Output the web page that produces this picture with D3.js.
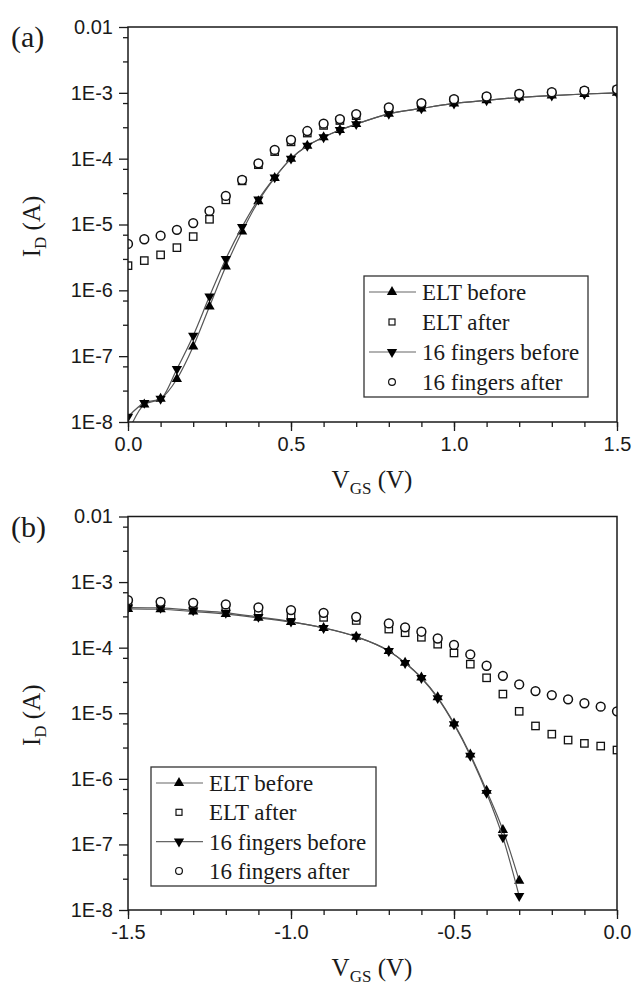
<!DOCTYPE html>
<html>
<head>
<meta charset="utf-8">
<script src="https://cdn.jsdelivr.net/npm/d3@7"></script>
<style>
  body { margin: 0; background: #fff; }
  svg { display: block; }
</style>
</head>
<body>
<svg width="634" height="988"></svg>
<script>
// (a) transfer curves, positive gate bias
var vTop = [0, 0.05, 0.1, 0.15, 0.2, 0.25, 0.3, 0.35, 0.4, 0.45, 0.5, 0.55, 0.6, 0.65, 0.7,
  0.8, 0.9, 1.0, 1.1, 1.2, 1.3, 1.4, 1.5];
var topEltBefore = [7e-9, 1.85e-8, 2.25e-8, 4.5e-8, 1.4e-7, 5.7e-7, 2.3e-6, 7.8e-6, 2.25e-5, 5.1e-5,
  1.0e-4, 1.57e-4, 2.12e-4, 2.72e-4, 3.35e-4, 4.8e-4, 5.8e-4, 6.9e-4, 7.7e-4, 8.5e-4, 9.1e-4, 9.6e-4, 1.0e-3];
var topFingBefore = [1.2e-8, 1.95e-8, 2.25e-8, 6.4e-8, 2.05e-7, 8.1e-7, 3.0e-6, 9.2e-6, 2.4e-5, 5.2e-5,
  1.0e-4, 1.57e-4, 2.12e-4, 2.72e-4, 3.35e-4, 4.8e-4, 5.8e-4, 6.9e-4, 7.7e-4, 8.5e-4, 9.1e-4, 9.6e-4, 1.0e-3];
var topEltAfter = [2.37e-6, 2.83e-6, 3.46e-6, 4.45e-6, 6.55e-6, 1.2e-5, 2.37e-5, 4.6e-5, 8.1e-5, 1.28e-4,
  1.8e-4, 2.45e-4, 3.2e-4, 3.8e-4, 4.5e-4, 5.7e-4, 6.7e-4, 7.7e-4, 8.5e-4, 9.3e-4, 9.9e-4, 1.05e-3, 1.1e-3];
var topFingAfter = [5.07e-6, 5.97e-6, 6.77e-6, 8.3e-6, 1.05e-5, 1.61e-5, 2.72e-5, 4.76e-5, 8.5e-5, 1.36e-4,
  1.93e-4, 2.63e-4, 3.4e-4, 4.0e-4, 4.75e-4, 6.0e-4, 7.0e-4, 8.0e-4, 8.8e-4, 9.6e-4, 1.02e-3, 1.08e-3, 1.13e-3];

// (b) transfer curves, negative gate bias
var vBotBefore = [-1.5, -1.4, -1.3, -1.2, -1.1, -1.0, -0.9, -0.8, -0.7, -0.65, -0.6, -0.55, -0.5,
  -0.45, -0.4, -0.35, -0.3];
var botEltBefore = [3.9e-4, 3.85e-4, 3.55e-4, 3.25e-4, 2.85e-4, 2.45e-4, 2.0e-4, 1.47e-4, 8.9e-5, 5.9e-5,
  3.5e-5, 1.75e-5, 7.0e-6, 2.35e-6, 6.6e-7, 1.66e-7, 2.8e-8];
var botFingBefore = [4.1e-4, 4.05e-4, 3.7e-4, 3.4e-4, 2.95e-4, 2.5e-4, 2.0e-4, 1.47e-4, 8.9e-5, 5.85e-5,
  3.45e-5, 1.7e-5, 6.8e-6, 2.25e-6, 6.1e-7, 1.28e-7, 1.63e-8];
var vBotAfter = [-1.5, -1.4, -1.3, -1.2, -1.1, -1.0, -0.9, -0.8, -0.7, -0.65, -0.6, -0.55, -0.5,
  -0.45, -0.4, -0.35, -0.3, -0.25, -0.2, -0.15, -0.1, -0.05, 0];
var botEltAfter = [4.6e-4, 4.4e-4, 4.2e-4, 3.9e-4, 3.5e-4, 3.15e-4, 2.9e-4, 2.6e-4, 1.92e-4, 1.69e-4,
  1.44e-4, 1.13e-4, 8.3e-5, 5.6e-5, 3.47e-5, 1.96e-5, 1.07e-5, 6.4e-6, 4.8e-6, 3.9e-6, 3.47e-6, 3.16e-6, 2.75e-6];
var botFingAfter = [5.3e-4, 5.0e-4, 4.83e-4, 4.57e-4, 4.1e-4, 3.74e-4, 3.4e-4, 2.95e-4, 2.34e-4, 2.04e-4,
  1.75e-4, 1.38e-4, 1.1e-4, 7.9e-5, 5.3e-5, 3.72e-5, 2.75e-5, 2.18e-5, 1.89e-5, 1.63e-5, 1.42e-5, 1.26e-5, 1.07e-5];

var yTicks = [1e-2, 1e-3, 1e-4, 1e-5, 1e-6, 1e-7, 1e-8];
var yTickLabels = ['0.01', '1E-3', '1E-4', '1E-5', '1E-6', '1E-7', '1E-8'];
var legendNames = ['ELT before', 'ELT after', '16 fingers before', '16 fingers after'];

var svg = d3.select('svg');
var sans = 'Liberation Sans, Arial, sans-serif';
var serif = 'Liberation Serif, Times New Roman, serif';
var ink = '#1a1a1a';

function zip(xs, ys) {
  return xs.map(function(v, i) { return { v: v, i: ys[i] }; });
}

function drawPanel(cfg) {
  var left = 128, right = 617;
  var x = d3.scaleLinear().domain(cfg.xDomain).range([left, right]);
  var y = d3.scaleLog().domain([1e-8, 1e-2]).range([cfg.bottom, cfg.top]);
  var g = svg.append('g');

  var clipId = 'clip-' + cfg.name;
  svg.append('clipPath').attr('id', clipId)
    .append('rect')
    .attr('x', left).attr('y', cfg.top)
    .attr('width', right - left).attr('height', cfg.bottom - cfg.top);

  // minor ticks
  var xMinor = d3.range(cfg.xDomain[0], cfg.xDomain[1] + 0.001, 0.1).map(function(d) { return Math.round(d * 10) / 10; });
  var yMinor = [];
  d3.range(-8, -2).forEach(function(e) {
    yMinor.push(3 * Math.pow(10, e));
    yMinor.push(7 * Math.pow(10, e));
  });

  g.append('g').attr('transform', 'translate(0,' + cfg.bottom + ')')
    .call(d3.axisBottom(x).tickValues(xMinor).tickSize(5).tickFormat(''))
    .call(function(s) { s.select('.domain').remove(); });
  g.append('g').attr('transform', 'translate(' + left + ',0)')
    .call(d3.axisLeft(y).tickValues(yMinor).tickSize(5).tickFormat(''))
    .call(function(s) { s.select('.domain').remove(); });

  var xAxis = g.append('g').attr('transform', 'translate(0,' + cfg.bottom + ')')
    .call(d3.axisBottom(x).tickValues(cfg.xTicks).tickSize(9).tickPadding(6)
      .tickFormat(function(d, i) { return cfg.xTickLabels[i]; }));
  xAxis.select('.domain').remove();
  xAxis.selectAll('text').attr('font-family', sans).attr('font-size', 20).attr('fill', ink);

  var yAxis = g.append('g').attr('transform', 'translate(' + left + ',0)')
    .call(d3.axisLeft(y).tickValues(yTicks).tickSize(9).tickPadding(6)
      .tickFormat(function(d, i) { return yTickLabels[i]; }));
  yAxis.select('.domain').remove();
  yAxis.selectAll('text').attr('font-family', sans).attr('font-size', 20).attr('fill', ink);

  g.selectAll('.tick line').attr('stroke', ink).attr('stroke-width', 1.3);

  // data
  var plot = g.append('g').attr('clip-path', 'url(#' + clipId + ')');
  var line = d3.line()
    .x(function(d) { return x(d.v); })
    .y(function(d) { return y(d.i); })
    .curve(d3.curveMonotoneX);

  var upTri = d3.symbol().type(d3.symbolTriangle).size(46)();

  function beforeSeries(data, rot) {
    plot.append('path').datum(data)
      .attr('d', line)
      .attr('fill', 'none')
      .attr('stroke', '#555')
      .attr('stroke-width', 1.2);
    plot.selectAll(null).data(data).enter()
      .append('path')
      .attr('d', upTri)
      .attr('transform', function(d) { return 'translate(' + x(d.v) + ',' + y(d.i) + ') rotate(' + rot + ')'; })
      .attr('fill', '#000');
  }

  function squareSeries(data) {
    plot.selectAll(null).data(data).enter()
      .append('rect')
      .attr('x', function(d) { return x(d.v) - 3.7; })
      .attr('y', function(d) { return y(d.i) - 3.7; })
      .attr('width', 7.4).attr('height', 7.4)
      .attr('fill', '#fff').attr('stroke', '#111').attr('stroke-width', 1.3);
  }

  function circleSeries(data) {
    plot.selectAll(null).data(data).enter()
      .append('circle')
      .attr('cx', function(d) { return x(d.v); })
      .attr('cy', function(d) { return y(d.i); })
      .attr('r', 4.4)
      .attr('fill', '#fff').attr('stroke', '#111').attr('stroke-width', 1.5);
  }

  beforeSeries(cfg.eltBefore, 0);
  squareSeries(cfg.eltAfter);
  beforeSeries(cfg.fingBefore, 180);
  circleSeries(cfg.fingAfter);

  // frame
  g.append('rect')
    .attr('x', left).attr('y', cfg.top)
    .attr('width', right - left).attr('height', cfg.bottom - cfg.top)
    .attr('fill', 'none').attr('stroke', ink).attr('stroke-width', 1.5);

  // legend
  var lg = cfg.legend;
  g.append('rect')
    .attr('x', lg.x).attr('y', lg.top)
    .attr('width', lg.w).attr('height', lg.h)
    .attr('fill', '#fff').attr('stroke', '#333').attr('stroke-width', 1.3);
  legendNames.forEach(function(name, k) {
    var cy = lg.firstRow + k * lg.step;
    var sx = lg.x + 28;
    if (k === 0 || k === 2) {
      g.append('line')
        .attr('x1', lg.x + 5).attr('x2', lg.x + 52)
        .attr('y1', cy).attr('y2', cy)
        .attr('stroke', '#666').attr('stroke-width', 1.2);
      g.append('path').attr('d', upTri)
        .attr('transform', 'translate(' + sx + ',' + cy + ') rotate(' + (k === 0 ? 0 : 180) + ')')
        .attr('fill', '#000');
    } else if (k === 1) {
      g.append('rect')
        .attr('x', sx - 3).attr('y', cy - 3).attr('width', 6).attr('height', 6)
        .attr('fill', '#fff').attr('stroke', '#111').attr('stroke-width', 1.2);
    } else {
      g.append('circle').attr('cx', sx).attr('cy', cy).attr('r', 3.4)
        .attr('fill', '#fff').attr('stroke', '#111').attr('stroke-width', 1.2);
    }
    g.append('text')
      .attr('x', lg.x + 58).attr('y', cy + 8)
      .attr('font-family', serif).attr('font-size', 23).attr('fill', ink)
      .text(name);
  });

  // axis titles
  var xt = g.append('text')
    .attr('x', 372).attr('y', cfg.bottom + 66)
    .attr('text-anchor', 'middle')
    .attr('font-family', serif).attr('font-size', 25).attr('fill', ink);
  xt.append('tspan').text('V');
  xt.append('tspan').attr('font-size', 17).attr('dy', 6).text('GS');
  xt.append('tspan').attr('dy', -6).text(' (V)');

  var yc = (cfg.top + cfg.bottom) / 2 + 2;
  var yt = g.append('text')
    .attr('transform', 'translate(40,' + yc + ') rotate(-90)')
    .attr('text-anchor', 'middle')
    .attr('font-family', serif).attr('font-size', 25).attr('fill', ink);
  yt.append('tspan').text('I');
  yt.append('tspan').attr('font-size', 17).attr('dy', 6).text('D');
  yt.append('tspan').attr('dy', -6).text(' (A)');

  g.append('text')
    .attr('x', 11).attr('y', cfg.top + 20)
    .attr('font-family', serif).attr('font-size', 30).attr('fill', ink)
    .text(cfg.label);
}

drawPanel({
  name: 'a', label: '(a)', top: 27, bottom: 422,
  xDomain: [0, 1.5], xTicks: [0, 0.5, 1.0, 1.5], xTickLabels: ['0.0', '0.5', '1.0', '1.5'],
  eltBefore: zip(vTop, topEltBefore), fingBefore: zip(vTop, topFingBefore),
  eltAfter: zip(vTop, topEltAfter), fingAfter: zip(vTop, topFingAfter),
  legend: { x: 364, top: 276, w: 224, h: 121, firstRow: 292, step: 30 }
});

drawPanel({
  name: 'b', label: '(b)', top: 516.5, bottom: 910,
  xDomain: [-1.5, 0], xTicks: [-1.5, -1.0, -0.5, 0], xTickLabels: ['-1.5', '-1.0', '-0.5', '0.0'],
  eltBefore: zip(vBotBefore, botEltBefore), fingBefore: zip(vBotBefore, botFingBefore),
  eltAfter: zip(vBotAfter, botEltAfter), fingAfter: zip(vBotAfter, botFingAfter),
  legend: { x: 151, top: 767, w: 225, h: 119, firstRow: 783, step: 29.3 }
});
</script>
</body>
</html>
